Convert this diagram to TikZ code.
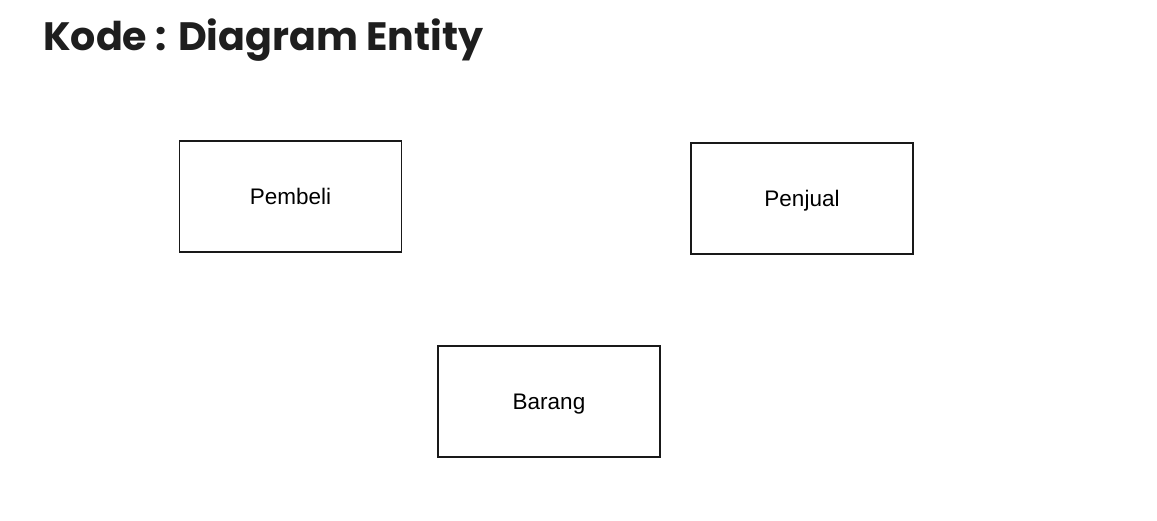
\documentclass[tikz,border=0pt]{standalone}
\usepackage{fontspec}
\setmainfont{Liberation Sans}
\newfontfamily\titlefont{Poppins}
\definecolor{titlegray}{HTML}{1E1E1E}
\begin{document}
\begin{tikzpicture}[x=1pt,y=-1pt,
  entity/.style={draw=black!90,line width=1.6pt,minimum width=222pt,minimum height=111pt,inner sep=0pt,text height=16pt,text depth=0pt,font=\fontsize{22.5}{26}\selectfont},
  heading/.style={anchor=base west,inner sep=0pt,text=titlegray,font=\titlefont\bfseries\fontsize{39.6}{44}\selectfont}]
\useasboundingbox (0,0) rectangle (1157,520);
\node[heading] (title) at (43,50) {Kode : Diagram Entity};
\node[entity] (pembeli) at (290.5,196.5) {Pembeli};
\node[entity] (penjual) at (802,198.5) {Penjual};
\node[entity] (barang) at (549,401.5) {Barang};
\end{tikzpicture}
\end{document}
